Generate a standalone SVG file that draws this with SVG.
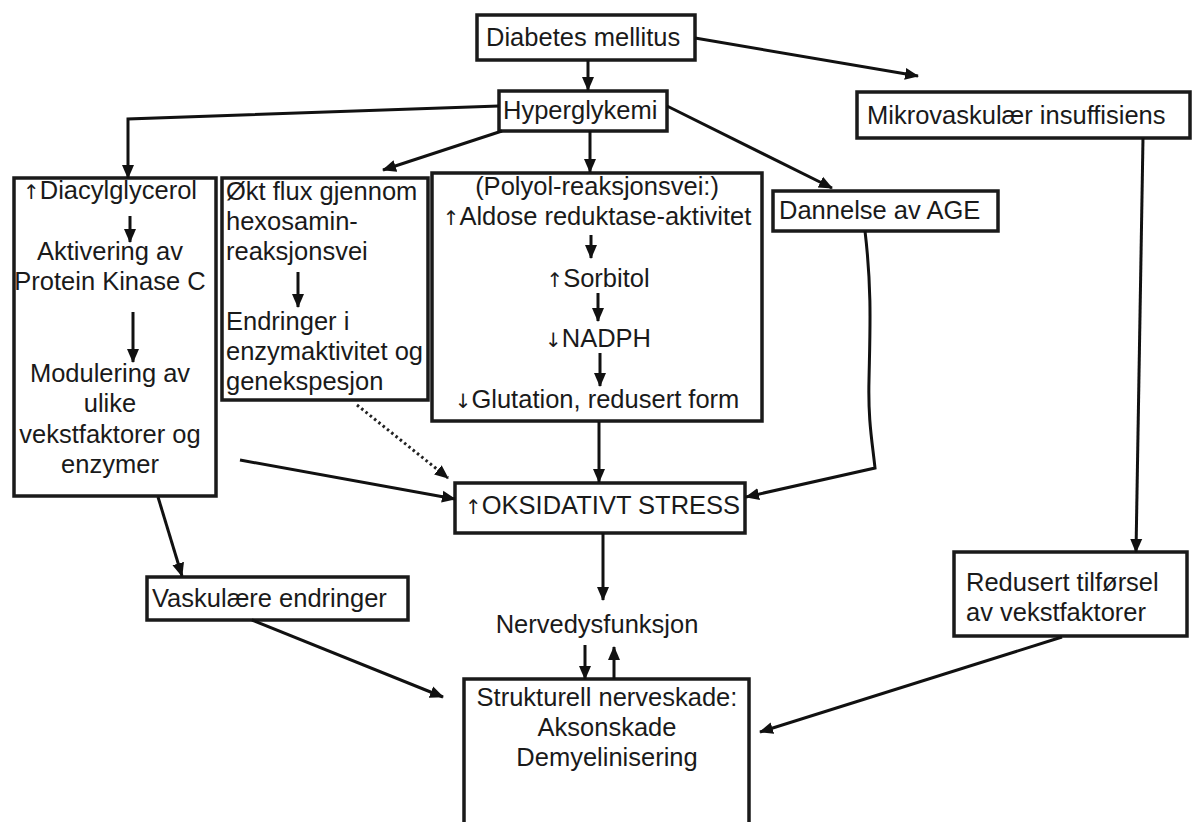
<svg xmlns="http://www.w3.org/2000/svg" width="1192" height="822" viewBox="0 0 1192 822">
<defs>
<marker id="ah" markerUnits="userSpaceOnUse" markerWidth="14" markerHeight="14" viewBox="0 0 14 14" refX="13" refY="7" orient="auto">
<path d="M0,1 L14,7 L0,13 Z" fill="#111"/>
</marker>
</defs>
<style>
.box{fill:#fff;stroke:#1a1a1a;stroke-width:3.5}
.t{font-family:"Liberation Sans",Arial,sans-serif;font-size:25.5px;fill:#1a1a1a}
.c{text-anchor:middle}
.ar{font-family:"DejaVu Sans",sans-serif;font-size:20px;fill:#1a1a1a}
.ln{fill:none;stroke:#111;stroke-width:3;marker-end:url(#ah)}
.dot{fill:none;stroke:#222;stroke-width:3;stroke-dasharray:2.5 3;marker-end:url(#ah)}
</style>
<rect width="1192" height="822" fill="#fff"/>
<g id="diabetes"><rect class="box" x="477" y="15" width="218" height="45"/><text class="t" x="486" y="46">Diabetes mellitus</text></g>
<g id="hyperglykemi"><rect class="box" x="499" y="91" width="168" height="40"/><text class="t" x="503" y="119" font-size="24.5">Hyperglykemi</text></g>
<g id="mikro"><rect class="box" x="857" y="92" width="333" height="46"/><text class="t" x="867" y="124">Mikrovaskulær insuffisiens</text></g>
<g id="dag"><rect class="box" x="14" y="178" width="202" height="318"/>
<text class="t c" x="110" y="199"><tspan class="ar">↑</tspan>Diacylglycerol</text>
<text class="t c" x="110" y="260">Aktivering av</text>
<text class="t c" x="110" y="290">Protein Kinase C</text>
<text class="t c" x="110" y="382">Modulering av</text>
<text class="t c" x="110" y="412">ulike</text>
<text class="t c" x="110" y="443">vekstfaktorer og</text>
<text class="t c" x="110" y="473">enzymer</text>
</g>
<g id="hexosamin"><rect class="box" x="222" y="178" width="206" height="222"/>
<text class="t" x="226" y="200">Økt flux gjennom</text>
<text class="t" x="226" y="230">hexosamin-</text>
<text class="t" x="226" y="260">reaksjonsvei</text>
<text class="t" x="226" y="330">Endringer i</text>
<text class="t" x="226" y="360">enzymaktivitet og</text>
<text class="t" x="226" y="390">genekspesjon</text>
</g>
<g id="polyol"><rect class="box" x="432" y="173" width="330" height="248"/>
<text class="t c" x="597" y="195">(Polyol-reaksjonsvei:)</text>
<text class="t c" x="597" y="225"><tspan class="ar">↑</tspan>Aldose reduktase-aktivitet</text>
<text class="t c" x="598" y="287"><tspan class="ar">↑</tspan>Sorbitol</text>
<text class="t c" x="598" y="347"><tspan class="ar">↓</tspan>NADPH</text>
<text class="t c" x="597" y="408"><tspan class="ar">↓</tspan>Glutation, redusert form</text>
</g>
<g id="age"><rect class="box" x="773" y="191" width="225" height="40"/><text class="t" x="779" y="219">Dannelse av AGE</text></g>
<g id="oks"><rect class="box" x="455" y="483" width="290" height="50"/><text class="t" x="465" y="514"><tspan class="ar">↑</tspan>OKSIDATIVT STRESS</text></g>
<g id="vask"><rect class="box" x="147" y="577" width="261" height="43"/><text class="t" x="152" y="607">Vaskulære endringer</text></g>
<g id="redusert"><rect class="box" x="954" y="552" width="233" height="84"/>
<text class="t" x="966" y="591">Redusert tilførsel</text>
<text class="t" x="966" y="621">av vekstfaktorer</text>
</g>
<g id="nervedys"><text class="t c" x="597" y="633">Nervedysfunksjon</text></g>
<g id="strukturell"><rect class="box" x="464" y="679" width="285" height="170"/>
<text class="t c" x="607" y="706">Strukturell nerveskade:</text>
<text class="t c" x="607" y="736">Aksonskade</text>
<text class="t c" x="607" y="766">Demyelinisering</text>
</g>
<g id="connectors">
<path class="ln" d="M588,60 L588,90"/>
<path class="ln" d="M695,38 L918,76"/>
<path class="ln" d="M499,106 L128,119 L128,178"/>
<path class="ln" d="M502,131 L383,170"/>
<path class="ln" d="M590,131 L590,172"/>
<path class="ln" d="M667,106 L832,188"/>
<path class="ln" d="M1143,138 L1136,552"/>
<path class="ln" d="M130,216 L130,242"/>
<path class="ln" d="M133,312 L133,362"/>
<path class="ln" d="M298,272 L298,307"/>
<path class="ln" d="M591,235 L591,258"/>
<path class="ln" d="M598,293 L598,321"/>
<path class="ln" d="M600,353 L600,386"/>
<path class="ln" d="M240,460 L455,499"/>
<path class="dot" d="M357,405 L448,478"/>
<path class="ln" d="M599,422 L599,482"/>
<path class="ln" d="M865,231 C872,290 870,330 869,380 C868,420 872,440 875,468 L746,497"/>
<path class="ln" d="M158,497 L182,576"/>
<path class="ln" d="M603,533 L603,600"/>
<path class="ln" d="M585,645 L585,679"/>
<path class="ln" d="M614,679 L614,647"/>
<path class="ln" d="M252,620 L443,697"/>
<path class="ln" d="M1062,637 L760,732"/>
</g>
</svg>
